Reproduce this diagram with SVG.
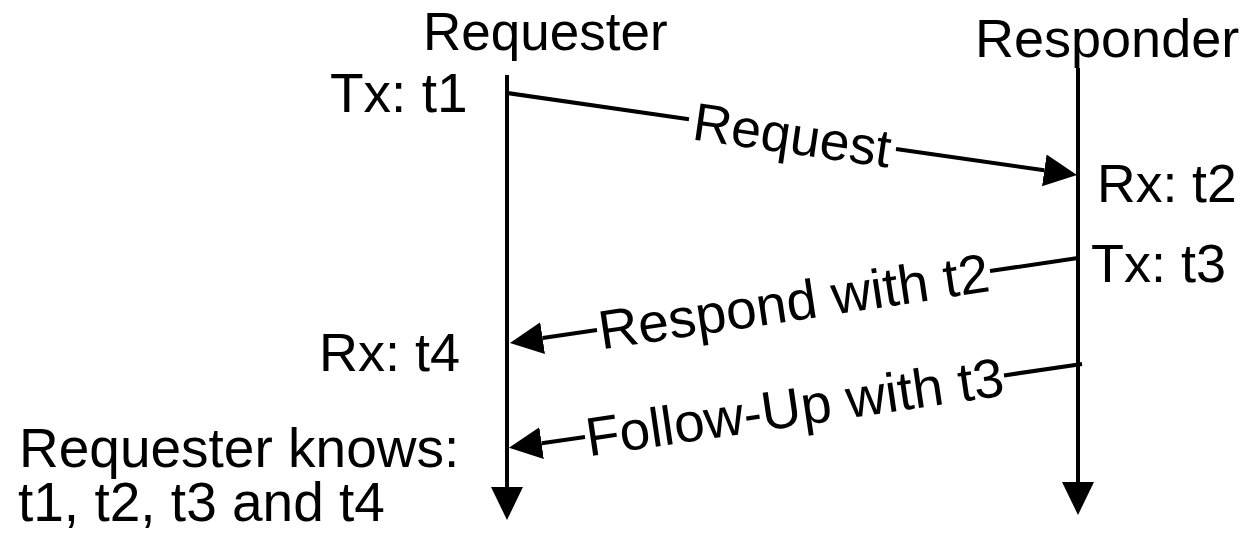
<svg xmlns="http://www.w3.org/2000/svg" width="1250" height="533" viewBox="0 0 1250 533">
  <defs>
    <style>
      .t { font-family: "Liberation Sans", Arial, sans-serif; font-size: 55px; fill: #000; }
      .ln { stroke: #000; stroke-width: 4; fill: none; }
    </style>
    <marker id="ah" markerUnits="userSpaceOnUse" markerWidth="34" markerHeight="34" refX="0" refY="16" orient="auto" viewBox="0 0 34 32">
      <path d="M0,0 L33,16 L0,32 Z" fill="#000"/>
    </marker>
  </defs>
  <rect width="1250" height="533" fill="#fff"/>

  <g id="requester">
    <text class="t" x="423" y="50" style="font-size:53px">Requester</text>
    <text class="t" x="330" y="112">Tx: t1</text>
    <text class="t" x="319" y="371" style="font-size:54px">Rx: t4</text>
    <text class="t" x="19" y="467">Requester knows:</text>
    <text class="t" x="18" y="521">t1, t2, t3 and t4</text>
  </g>

  <g id="responder">
    <text class="t" x="975" y="57" style="font-size:54px">Responder</text>
    <text class="t" x="1097" y="202" style="font-size:53.5px">Rx: t2</text>
    <text class="t" x="1091" y="282" style="font-size:54px">Tx: t3</text>
  </g>

  <g id="connectors">
    <line class="ln" x1="507" y1="75" x2="507" y2="487" marker-end="url(#ah)"/>
    <line class="ln" x1="1078" y1="68" x2="1078" y2="482" marker-end="url(#ah)"/>

    <line class="ln" x1="507" y1="93" x2="689" y2="119.2"/>
    <line class="ln" x1="896" y1="148.9" x2="1044.3" y2="170.3" marker-end="url(#ah)"/>
    <text class="t" text-anchor="middle" transform="translate(792.5,134.1) rotate(8.19)" x="0" y="19.5" style="font-size:53.5px">Request</text>

    <line class="ln" x1="1078" y1="258" x2="990" y2="271"/>
    <line class="ln" x1="597" y1="330" x2="542.6" y2="338.1" marker-end="url(#ah)"/>
    <text class="t" text-anchor="middle" transform="translate(793.5,300.5) rotate(-8.53)" x="0" y="20">Respond with t2</text>

    <line class="ln" x1="1082" y1="364" x2="1004" y2="375.4"/>
    <line class="ln" x1="585" y1="437" x2="541.6" y2="443.2" marker-end="url(#ah)"/>
    <text class="t" text-anchor="middle" transform="translate(794.5,406.1) rotate(-8.34)" x="0" y="20">Follow-Up with t3</text>
  </g>
</svg>
